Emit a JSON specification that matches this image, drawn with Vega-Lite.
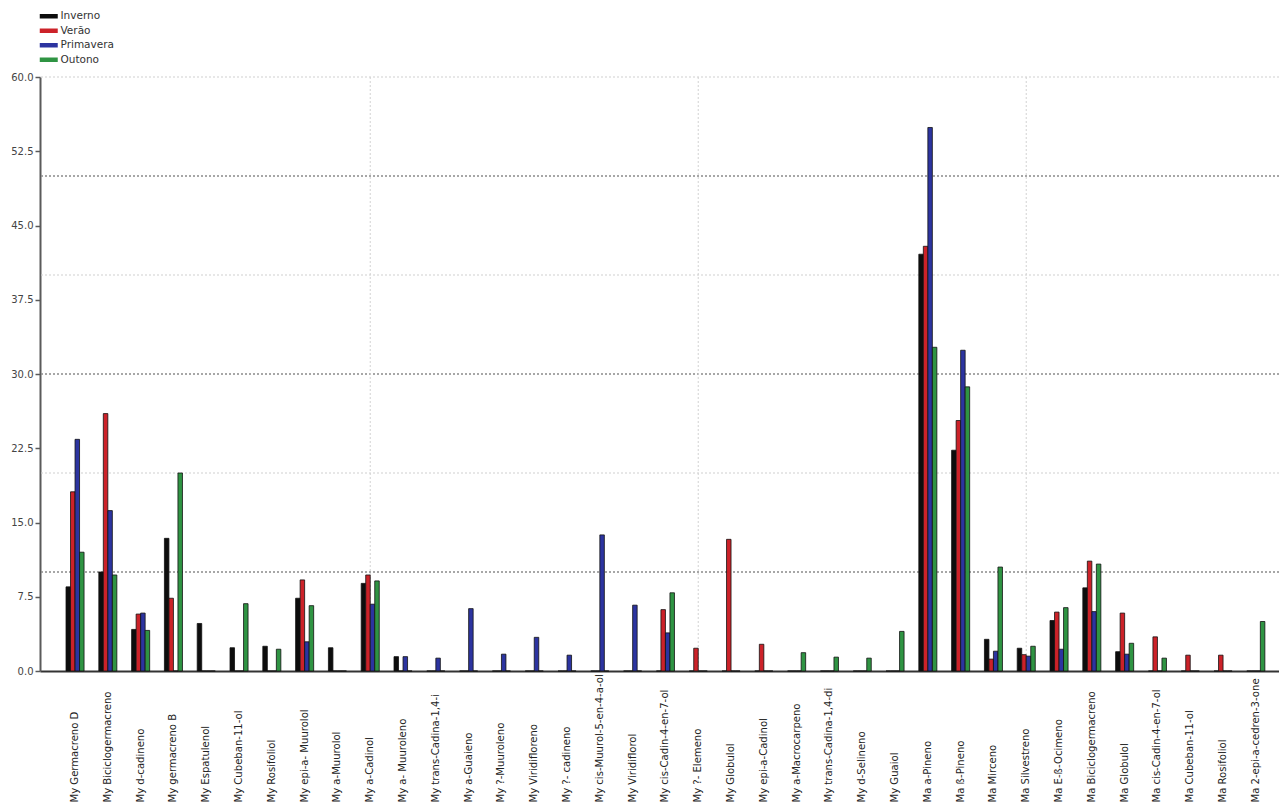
{
  "$schema": "https://vega.github.io/schema/vega-lite/v6.json",
  "autosize": {"type": "none"},
  "width": 1239,
  "height": 594,
  "padding": {"left": 40, "top": 77, "right": 0, "bottom": 136},
  "background": "#ffffff",
  "datasets": {
    "composicao": [
      {"Composto": "My Germacreno D", "Estacao": "Inverno", "Valor": 8.5},
      {"Composto": "My Germacreno D", "Estacao": "Verão", "Valor": 18.1},
      {"Composto": "My Germacreno D", "Estacao": "Primavera", "Valor": 23.4},
      {"Composto": "My Germacreno D", "Estacao": "Outono", "Valor": 12.0},
      {"Composto": "My Biciclogermacreno", "Estacao": "Inverno", "Valor": 10.0},
      {"Composto": "My Biciclogermacreno", "Estacao": "Verão", "Valor": 26.0},
      {"Composto": "My Biciclogermacreno", "Estacao": "Primavera", "Valor": 16.2},
      {"Composto": "My Biciclogermacreno", "Estacao": "Outono", "Valor": 9.7},
      {"Composto": "My d-cadineno", "Estacao": "Inverno", "Valor": 4.2},
      {"Composto": "My d-cadineno", "Estacao": "Verão", "Valor": 5.75},
      {"Composto": "My d-cadineno", "Estacao": "Primavera", "Valor": 5.85},
      {"Composto": "My d-cadineno", "Estacao": "Outono", "Valor": 4.1},
      {"Composto": "My germacreno B", "Estacao": "Inverno", "Valor": 13.4},
      {"Composto": "My germacreno B", "Estacao": "Verão", "Valor": 7.35},
      {"Composto": "My germacreno B", "Estacao": "Primavera", "Valor": 0},
      {"Composto": "My germacreno B", "Estacao": "Outono", "Valor": 20.0},
      {"Composto": "My Espatulenol", "Estacao": "Inverno", "Valor": 4.8},
      {"Composto": "My Espatulenol", "Estacao": "Verão", "Valor": 0},
      {"Composto": "My Espatulenol", "Estacao": "Primavera", "Valor": 0},
      {"Composto": "My Espatulenol", "Estacao": "Outono", "Valor": 0},
      {"Composto": "My Cubeban-11-ol", "Estacao": "Inverno", "Valor": 2.35},
      {"Composto": "My Cubeban-11-ol", "Estacao": "Verão", "Valor": 0},
      {"Composto": "My Cubeban-11-ol", "Estacao": "Primavera", "Valor": 0},
      {"Composto": "My Cubeban-11-ol", "Estacao": "Outono", "Valor": 6.8},
      {"Composto": "My Rosifoliol", "Estacao": "Inverno", "Valor": 2.5},
      {"Composto": "My Rosifoliol", "Estacao": "Verão", "Valor": 0},
      {"Composto": "My Rosifoliol", "Estacao": "Primavera", "Valor": 0},
      {"Composto": "My Rosifoliol", "Estacao": "Outono", "Valor": 2.2},
      {"Composto": "My epi-a- Muurolol", "Estacao": "Inverno", "Valor": 7.35},
      {"Composto": "My epi-a- Muurolol", "Estacao": "Verão", "Valor": 9.2},
      {"Composto": "My epi-a- Muurolol", "Estacao": "Primavera", "Valor": 2.95},
      {"Composto": "My epi-a- Muurolol", "Estacao": "Outono", "Valor": 6.6},
      {"Composto": "My a-Muurolol", "Estacao": "Inverno", "Valor": 2.35},
      {"Composto": "My a-Muurolol", "Estacao": "Verão", "Valor": 0},
      {"Composto": "My a-Muurolol", "Estacao": "Primavera", "Valor": 0},
      {"Composto": "My a-Muurolol", "Estacao": "Outono", "Valor": 0},
      {"Composto": "My a-Cadinol", "Estacao": "Inverno", "Valor": 8.85},
      {"Composto": "My a-Cadinol", "Estacao": "Verão", "Valor": 9.7},
      {"Composto": "My a-Cadinol", "Estacao": "Primavera", "Valor": 6.75},
      {"Composto": "My a-Cadinol", "Estacao": "Outono", "Valor": 9.1},
      {"Composto": "My a- Muuroleno", "Estacao": "Inverno", "Valor": 1.45},
      {"Composto": "My a- Muuroleno", "Estacao": "Verão", "Valor": 0},
      {"Composto": "My a- Muuroleno", "Estacao": "Primavera", "Valor": 1.45},
      {"Composto": "My a- Muuroleno", "Estacao": "Outono", "Valor": 0},
      {"Composto": "My trans-Cadina-1,4-i", "Estacao": "Inverno", "Valor": 0},
      {"Composto": "My trans-Cadina-1,4-i", "Estacao": "Verão", "Valor": 0},
      {"Composto": "My trans-Cadina-1,4-i", "Estacao": "Primavera", "Valor": 1.3},
      {"Composto": "My trans-Cadina-1,4-i", "Estacao": "Outono", "Valor": 0},
      {"Composto": "My a-Guaieno", "Estacao": "Inverno", "Valor": 0},
      {"Composto": "My a-Guaieno", "Estacao": "Verão", "Valor": 0},
      {"Composto": "My a-Guaieno", "Estacao": "Primavera", "Valor": 6.3},
      {"Composto": "My a-Guaieno", "Estacao": "Outono", "Valor": 0},
      {"Composto": "My ?-Muuroleno", "Estacao": "Inverno", "Valor": 0},
      {"Composto": "My ?-Muuroleno", "Estacao": "Verão", "Valor": 0},
      {"Composto": "My ?-Muuroleno", "Estacao": "Primavera", "Valor": 1.7},
      {"Composto": "My ?-Muuroleno", "Estacao": "Outono", "Valor": 0},
      {"Composto": "My Viridifloreno", "Estacao": "Inverno", "Valor": 0},
      {"Composto": "My Viridifloreno", "Estacao": "Verão", "Valor": 0},
      {"Composto": "My Viridifloreno", "Estacao": "Primavera", "Valor": 3.4},
      {"Composto": "My Viridifloreno", "Estacao": "Outono", "Valor": 0},
      {"Composto": "My ?- cadineno", "Estacao": "Inverno", "Valor": 0},
      {"Composto": "My ?- cadineno", "Estacao": "Verão", "Valor": 0},
      {"Composto": "My ?- cadineno", "Estacao": "Primavera", "Valor": 1.6},
      {"Composto": "My ?- cadineno", "Estacao": "Outono", "Valor": 0},
      {"Composto": "My cis-Muurol-5-en-4-a-ol", "Estacao": "Inverno", "Valor": 0},
      {"Composto": "My cis-Muurol-5-en-4-a-ol", "Estacao": "Verão", "Valor": 0},
      {"Composto": "My cis-Muurol-5-en-4-a-ol", "Estacao": "Primavera", "Valor": 13.75},
      {"Composto": "My cis-Muurol-5-en-4-a-ol", "Estacao": "Outono", "Valor": 0},
      {"Composto": "My Viridiflorol", "Estacao": "Inverno", "Valor": 0},
      {"Composto": "My Viridiflorol", "Estacao": "Verão", "Valor": 0},
      {"Composto": "My Viridiflorol", "Estacao": "Primavera", "Valor": 6.65},
      {"Composto": "My Viridiflorol", "Estacao": "Outono", "Valor": 0},
      {"Composto": "My cis-Cadin-4-en-7-ol", "Estacao": "Inverno", "Valor": 0},
      {"Composto": "My cis-Cadin-4-en-7-ol", "Estacao": "Verão", "Valor": 6.2},
      {"Composto": "My cis-Cadin-4-en-7-ol", "Estacao": "Primavera", "Valor": 3.85},
      {"Composto": "My cis-Cadin-4-en-7-ol", "Estacao": "Outono", "Valor": 7.9},
      {"Composto": "My ?- Elemeno", "Estacao": "Inverno", "Valor": 0},
      {"Composto": "My ?- Elemeno", "Estacao": "Verão", "Valor": 2.3},
      {"Composto": "My ?- Elemeno", "Estacao": "Primavera", "Valor": 0},
      {"Composto": "My ?- Elemeno", "Estacao": "Outono", "Valor": 0},
      {"Composto": "My Globulol", "Estacao": "Inverno", "Valor": 0},
      {"Composto": "My Globulol", "Estacao": "Verão", "Valor": 13.3},
      {"Composto": "My Globulol", "Estacao": "Primavera", "Valor": 0},
      {"Composto": "My Globulol", "Estacao": "Outono", "Valor": 0},
      {"Composto": "My epi-a-Cadinol", "Estacao": "Inverno", "Valor": 0},
      {"Composto": "My epi-a-Cadinol", "Estacao": "Verão", "Valor": 2.7},
      {"Composto": "My epi-a-Cadinol", "Estacao": "Primavera", "Valor": 0},
      {"Composto": "My epi-a-Cadinol", "Estacao": "Outono", "Valor": 0},
      {"Composto": "My a-Macrocarpeno", "Estacao": "Inverno", "Valor": 0},
      {"Composto": "My a-Macrocarpeno", "Estacao": "Verão", "Valor": 0},
      {"Composto": "My a-Macrocarpeno", "Estacao": "Primavera", "Valor": 0},
      {"Composto": "My a-Macrocarpeno", "Estacao": "Outono", "Valor": 1.85},
      {"Composto": "My trans-Cadina-1,4-di", "Estacao": "Inverno", "Valor": 0},
      {"Composto": "My trans-Cadina-1,4-di", "Estacao": "Verão", "Valor": 0},
      {"Composto": "My trans-Cadina-1,4-di", "Estacao": "Primavera", "Valor": 0},
      {"Composto": "My trans-Cadina-1,4-di", "Estacao": "Outono", "Valor": 1.4},
      {"Composto": "My d-Selineno", "Estacao": "Inverno", "Valor": 0},
      {"Composto": "My d-Selineno", "Estacao": "Verão", "Valor": 0},
      {"Composto": "My d-Selineno", "Estacao": "Primavera", "Valor": 0},
      {"Composto": "My d-Selineno", "Estacao": "Outono", "Valor": 1.3},
      {"Composto": "My Guaiol", "Estacao": "Inverno", "Valor": 0},
      {"Composto": "My Guaiol", "Estacao": "Verão", "Valor": 0},
      {"Composto": "My Guaiol", "Estacao": "Primavera", "Valor": 0},
      {"Composto": "My Guaiol", "Estacao": "Outono", "Valor": 4.0},
      {"Composto": "Ma a-Pineno", "Estacao": "Inverno", "Valor": 42.1},
      {"Composto": "Ma a-Pineno", "Estacao": "Verão", "Valor": 42.9},
      {"Composto": "Ma a-Pineno", "Estacao": "Primavera", "Valor": 54.9},
      {"Composto": "Ma a-Pineno", "Estacao": "Outono", "Valor": 32.7},
      {"Composto": "Ma ß-Pineno", "Estacao": "Inverno", "Valor": 22.3},
      {"Composto": "Ma ß-Pineno", "Estacao": "Verão", "Valor": 25.3},
      {"Composto": "Ma ß-Pineno", "Estacao": "Primavera", "Valor": 32.4},
      {"Composto": "Ma ß-Pineno", "Estacao": "Outono", "Valor": 28.7},
      {"Composto": "Ma Mirceno", "Estacao": "Inverno", "Valor": 3.2},
      {"Composto": "Ma Mirceno", "Estacao": "Verão", "Valor": 1.2},
      {"Composto": "Ma Mirceno", "Estacao": "Primavera", "Valor": 2.0},
      {"Composto": "Ma Mirceno", "Estacao": "Outono", "Valor": 10.5},
      {"Composto": "Ma Silvestreno", "Estacao": "Inverno", "Valor": 2.3},
      {"Composto": "Ma Silvestreno", "Estacao": "Verão", "Valor": 1.65},
      {"Composto": "Ma Silvestreno", "Estacao": "Primavera", "Valor": 1.5},
      {"Composto": "Ma Silvestreno", "Estacao": "Outono", "Valor": 2.5},
      {"Composto": "Ma E-ß-Ocimeno", "Estacao": "Inverno", "Valor": 5.1},
      {"Composto": "Ma E-ß-Ocimeno", "Estacao": "Verão", "Valor": 5.95},
      {"Composto": "Ma E-ß-Ocimeno", "Estacao": "Primavera", "Valor": 2.2},
      {"Composto": "Ma E-ß-Ocimeno", "Estacao": "Outono", "Valor": 6.4},
      {"Composto": "Ma Biciclogermacreno", "Estacao": "Inverno", "Valor": 8.4},
      {"Composto": "Ma Biciclogermacreno", "Estacao": "Verão", "Valor": 11.1},
      {"Composto": "Ma Biciclogermacreno", "Estacao": "Primavera", "Valor": 6.0},
      {"Composto": "Ma Biciclogermacreno", "Estacao": "Outono", "Valor": 10.8},
      {"Composto": "Ma Globulol", "Estacao": "Inverno", "Valor": 1.95},
      {"Composto": "Ma Globulol", "Estacao": "Verão", "Valor": 5.85},
      {"Composto": "Ma Globulol", "Estacao": "Primavera", "Valor": 1.7},
      {"Composto": "Ma Globulol", "Estacao": "Outono", "Valor": 2.8},
      {"Composto": "Ma cis-Cadin-4-en-7-ol", "Estacao": "Inverno", "Valor": 0},
      {"Composto": "Ma cis-Cadin-4-en-7-ol", "Estacao": "Verão", "Valor": 3.45},
      {"Composto": "Ma cis-Cadin-4-en-7-ol", "Estacao": "Primavera", "Valor": 0},
      {"Composto": "Ma cis-Cadin-4-en-7-ol", "Estacao": "Outono", "Valor": 1.3},
      {"Composto": "Ma Cubeban-11-ol", "Estacao": "Inverno", "Valor": 0},
      {"Composto": "Ma Cubeban-11-ol", "Estacao": "Verão", "Valor": 1.6},
      {"Composto": "Ma Cubeban-11-ol", "Estacao": "Primavera", "Valor": 0},
      {"Composto": "Ma Cubeban-11-ol", "Estacao": "Outono", "Valor": 0},
      {"Composto": "Ma Rosifoliol", "Estacao": "Inverno", "Valor": 0},
      {"Composto": "Ma Rosifoliol", "Estacao": "Verão", "Valor": 1.6},
      {"Composto": "Ma Rosifoliol", "Estacao": "Primavera", "Valor": 0},
      {"Composto": "Ma Rosifoliol", "Estacao": "Outono", "Valor": 0},
      {"Composto": "Ma 2-epi-a-cedren-3-one", "Estacao": "Inverno", "Valor": 0},
      {"Composto": "Ma 2-epi-a-cedren-3-one", "Estacao": "Verão", "Valor": 0},
      {"Composto": "Ma 2-epi-a-cedren-3-one", "Estacao": "Primavera", "Valor": 0},
      {"Composto": "Ma 2-epi-a-cedren-3-one", "Estacao": "Outono", "Valor": 5.0}
    ]
  },
  "config": {
    "view": {"stroke": null},
    "axis": {"grid": false},
    "axisY": {
      "domainColor": "#5a5a5a",
      "domainWidth": 2,
      "tickColor": "#5a5a5a",
      "tickSize": 5,
      "tickWidth": 1.5,
      "labelColor": "#444444",
      "labelFont": "DejaVu Sans",
      "labelFontSize": 10,
      "labelPadding": 2
    },
    "axisX": {
      "domainColor": "#333333",
      "domainWidth": 2,
      "ticks": false,
      "labelAngle": 270,
      "labelAlign": "left",
      "labelBaseline": "middle",
      "labelPadding": 131,
      "labelFont": "DejaVu Sans Condensed",
      "labelFontSize": 11.2,
      "labelColor": "#222222",
      "labelLimit": 132,
      "labelOverlap": false,
      "labelBound": false,
      "labelFlush": false
    }
  },
  "layer": [
    {
      "data": {"values": [{"nivel": 20}, {"nivel": 40}, {"nivel": 60}]},
      "mark": {"type": "rule", "color": "#cfcfcf", "strokeDash": [2, 2], "strokeWidth": 1},
      "encoding": {
        "y": {"field": "nivel", "type": "quantitative", "title": null, "scale": {"domain": [0, 60], "nice": false}}
      }
    },
    {
      "data": {"values": [{"nivel": 10}, {"nivel": 30}, {"nivel": 50}]},
      "mark": {"type": "rule", "color": "#8a8a8a", "strokeDash": [2, 2], "strokeWidth": 1.3},
      "encoding": {
        "y": {"field": "nivel", "type": "quantitative", "title": null, "scale": {"domain": [0, 60], "nice": false}}
      }
    },
    {
      "data": {"values": [{"Composto": "My a-Cadinol"}, {"Composto": "My ?- Elemeno"}, {"Composto": "Ma Silvestreno"}]},
      "mark": {"type": "rule", "color": "#d2d2d2", "strokeDash": [2, 2], "strokeWidth": 1},
      "encoding": {
        "x": {
          "field": "Composto", "type": "nominal", "title": null, "sort": null,
          "scale": {
            "domain": ["My Germacreno D", "My Biciclogermacreno", "My d-cadineno", "My germacreno B", "My Espatulenol", "My Cubeban-11-ol", "My Rosifoliol", "My epi-a- Muurolol", "My a-Muurolol", "My a-Cadinol", "My a- Muuroleno", "My trans-Cadina-1,4-i", "My a-Guaieno", "My ?-Muuroleno", "My Viridifloreno", "My ?- cadineno", "My cis-Muurol-5-en-4-a-ol", "My Viridiflorol", "My cis-Cadin-4-en-7-ol", "My ?- Elemeno", "My Globulol", "My epi-a-Cadinol", "My a-Macrocarpeno", "My trans-Cadina-1,4-di", "My d-Selineno", "My Guaiol", "Ma a-Pineno", "Ma ß-Pineno", "Ma Mirceno", "Ma Silvestreno", "Ma E-ß-Ocimeno", "Ma Biciclogermacreno", "Ma Globulol", "Ma cis-Cadin-4-en-7-ol", "Ma Cubeban-11-ol", "Ma Rosifoliol", "Ma 2-epi-a-cedren-3-one"],
            "paddingInner": 0.45, "paddingOuter": 0.612, "align": 0.648
          }
        }
      }
    },
    {
      "data": {"name": "composicao"},
      "mark": {"type": "bar", "stroke": "#111111", "strokeWidth": 0.8},
      "encoding": {
        "x": {
          "field": "Composto", "type": "nominal", "title": null, "sort": null,
          "scale": {
            "domain": ["My Germacreno D", "My Biciclogermacreno", "My d-cadineno", "My germacreno B", "My Espatulenol", "My Cubeban-11-ol", "My Rosifoliol", "My epi-a- Muurolol", "My a-Muurolol", "My a-Cadinol", "My a- Muuroleno", "My trans-Cadina-1,4-i", "My a-Guaieno", "My ?-Muuroleno", "My Viridifloreno", "My ?- cadineno", "My cis-Muurol-5-en-4-a-ol", "My Viridiflorol", "My cis-Cadin-4-en-7-ol", "My ?- Elemeno", "My Globulol", "My epi-a-Cadinol", "My a-Macrocarpeno", "My trans-Cadina-1,4-di", "My d-Selineno", "My Guaiol", "Ma a-Pineno", "Ma ß-Pineno", "Ma Mirceno", "Ma Silvestreno", "Ma E-ß-Ocimeno", "Ma Biciclogermacreno", "Ma Globulol", "Ma cis-Cadin-4-en-7-ol", "Ma Cubeban-11-ol", "Ma Rosifoliol", "Ma 2-epi-a-cedren-3-one"],
            "paddingInner": 0.45, "paddingOuter": 0.612, "align": 0.648
          }
        },
        "xOffset": {
          "field": "Estacao", "type": "nominal",
          "sort": ["Inverno", "Verão", "Primavera", "Outono"],
          "scale": {"paddingInner": 0, "paddingOuter": 0}
        },
        "y": {
          "field": "Valor", "type": "quantitative", "title": null,
          "scale": {"domain": [0, 60], "nice": false},
          "axis": {"values": [0, 7.5, 15, 22.5, 30, 37.5, 45, 52.5, 60], "format": ".1f"}
        },
        "color": {
          "field": "Estacao", "type": "nominal", "title": null,
          "sort": ["Inverno", "Verão", "Primavera", "Outono"],
          "scale": {
            "domain": ["Inverno", "Verão", "Primavera", "Outono"],
            "range": ["#0d0d0d", "#cc2229", "#2c34a0", "#2f9443"]
          },
          "legend": {
            "orient": "none",
            "legendX": 3.5,
            "legendY": -66,
            "padding": 0,
            "symbolType": "M-2,-0.5H2V0.5H-2Z",
            "symbolSize": 81,
            "symbolStrokeWidth": 0,
            "labelFont": "DejaVu Sans",
            "labelFontSize": 10.5,
            "labelColor": "#333333",
            "labelOffset": 6.5,
            "rowPadding": 3.5
          }
        }
      }
    }
  ]
}
